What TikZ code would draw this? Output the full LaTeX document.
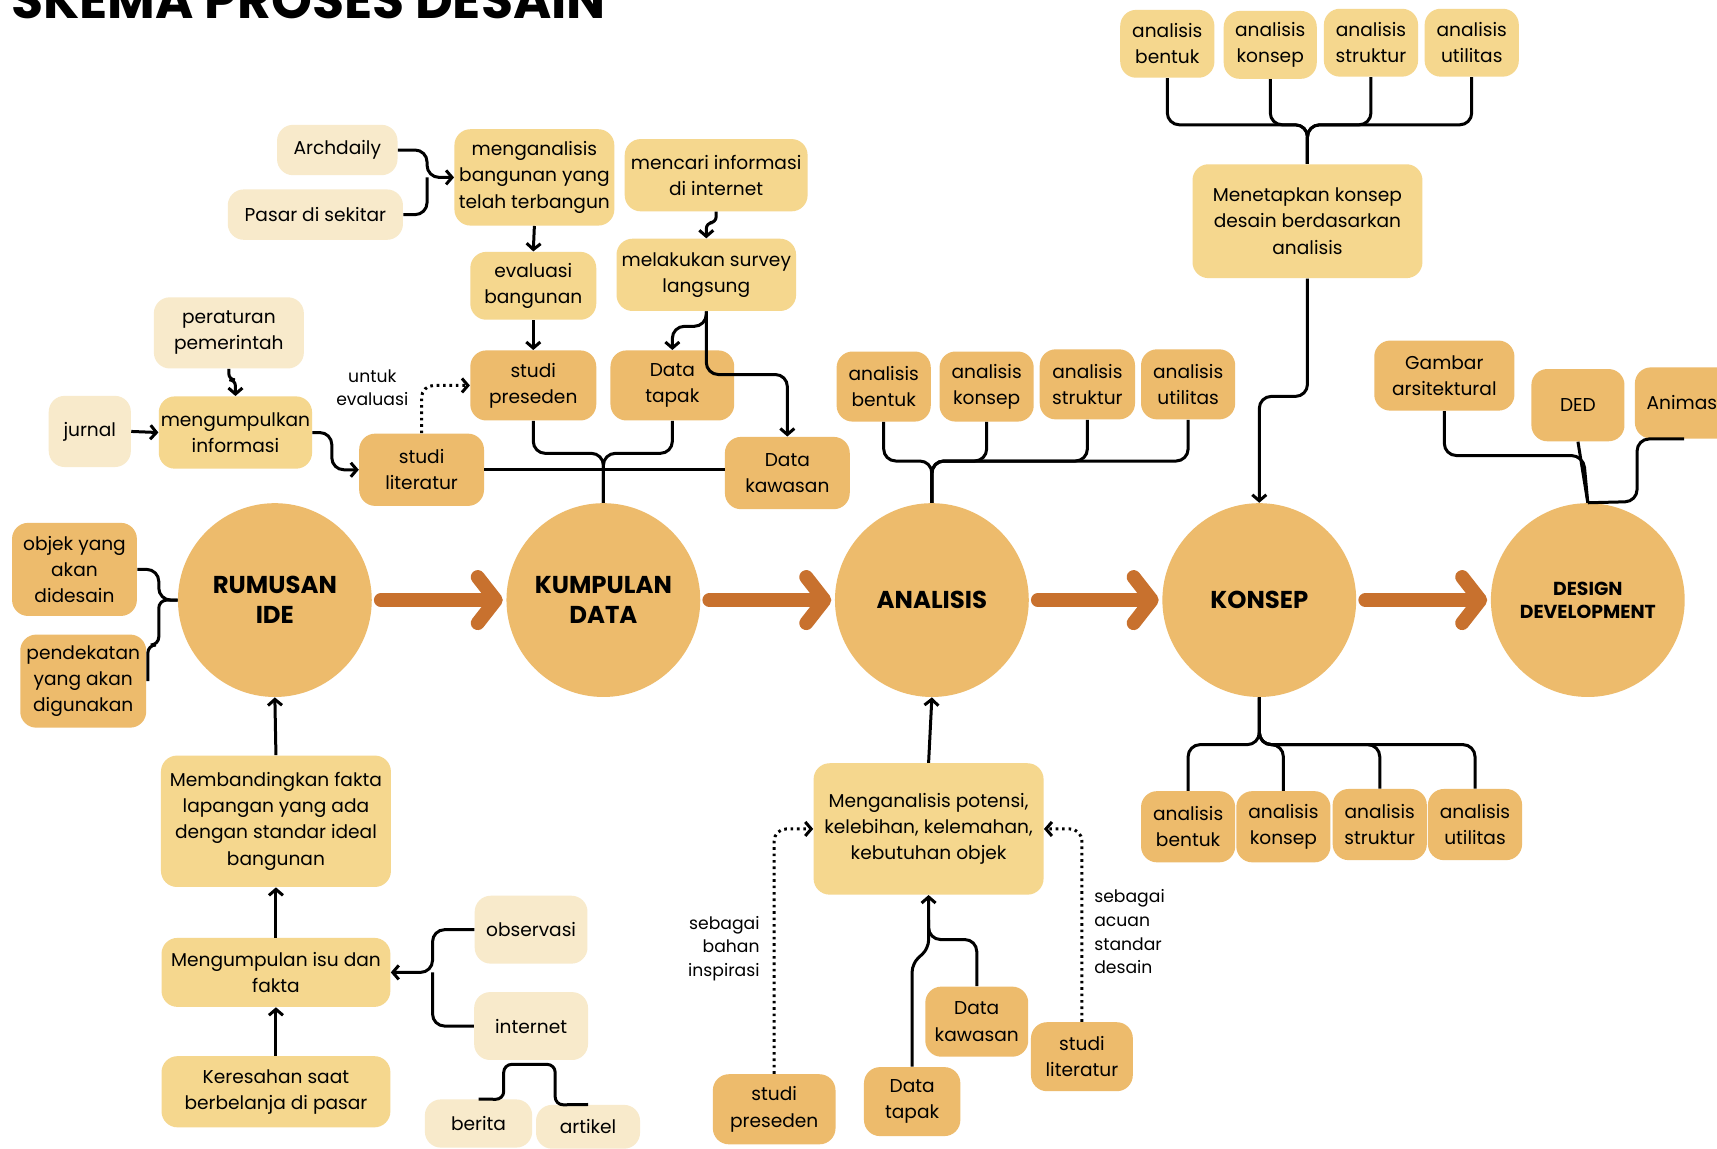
\documentclass[tikz,border=0pt]{standalone}
\usepackage{fontspec}
\setmainfont{Poppins}
\usetikzlibrary{arrows.meta}

\newlength\upx
\setlength\upx{0.5475pt}
\definecolor{cream}{HTML}{F8EACB}
\definecolor{sand}{HTML}{F5D78E}
\definecolor{ochre}{HTML}{EDBB6C}
\definecolor{rust}{HTML}{C8712E}

\tikzset{
  box/.style={rounded corners=8pt, align=center, inner sep=0pt, font=\fontsize{9.3}{13.1}\selectfont},
  palebox/.style={box, fill=cream},
  sandbox/.style={box, fill=sand},
  ochrebox/.style={box, fill=ochre},
  wh/.style 2 args={minimum width=#1\upx, minimum height=#2\upx},
  stage/.style={circle, fill=ochre, minimum size=177\upx, inner sep=0pt, align=center,
    font=\bfseries\fontsize{12.2}{14.8}\selectfont},
  link/.style={line width=1.5pt, rounded corners=6pt},
  arw/.style={link, -{Straight Barb[length=3pt,width=7pt]}},
  dotarw/.style={arw, dash pattern=on 1.3pt off 1.9pt},
  bigarw/.style={rust, line width=7pt, line cap=round, shorten <=8\upx, shorten >=3\upx,
    -{Straight Barb[length=9pt,width=23pt,round]}},
  note/.style={inner sep=0pt, font=\fontsize{8.6}{11.8}\selectfont},
}

\begin{document}
\begin{tikzpicture}[x=\upx, y=-\upx]
\useasboundingbox (0,0) rectangle (1568,1049);
\fill[white] (0,0) rectangle (1568,1049);

\node[anchor=base west, inner sep=0pt, font=\bfseries\fontsize{26}{26}\selectfont] (title) at (10,17) {SKEMA PROSES DESAIN};

% tahapan utama
\node[stage] (ide) at (251,548) {RUMUSAN\\IDE};
\node[stage] (data) at (551,548) {KUMPULAN\\DATA};
\node[stage] (anls) at (851,548) {ANALISIS};
\node[stage] (kons) at (1150,548) {KONSEP};
\node[stage, font=\bfseries\fontsize{9.4}{11.5}\selectfont] (dd) at (1450,548) {DESIGN\\DEVELOPMENT};
\draw[bigarw] (ide) -- (data);
\draw[bigarw] (data) -- (anls);
\draw[bigarw] (anls) -- (kons);
\draw[bigarw] (kons) -- (dd);

% rumusan ide
\node[ochrebox, wh={114}{85}] (objek) at (68,520) {objek yang\\akan\\didesain};
\node[ochrebox, wh={115}{85}] (pdkt) at (76,622) {pendekatan\\yang akan\\digunakan};
\draw[link] (objek.east) -| (145,548) -- (ide.west);
\draw[link, rounded corners=4pt] (ide.west) -- (145,548) |- (135,589) -- (135,622);
\node[sandbox, wh={210}{120}] (banding) at (252,750) {Membandingkan fakta\\lapangan yang ada\\dengan standar ideal\\bangunan};
\node[sandbox, wh={209}{63}] (isu) at (252,888) {Mengumpulan isu dan\\fakta};
\node[sandbox, wh={209}{65}] (resah) at (252,997) {Keresahan saat\\berbelanja di pasar};
\node[palebox, wh={103}{62}] (obs) at (485,849) {observasi};
\node[palebox, wh={104}{62}] (inet) at (485,937) {internet};
\node[palebox, wh={98}{44}] (berita) at (437,1026) {berita};
\node[palebox, wh={95}{40}] (artikel) at (537,1029) {artikel};
\draw[arw] (resah.north) -- (isu.south);
\draw[arw] (isu.north) -- (banding.south);
\draw[arw] (banding.north) -- (ide.south);
\draw[arw] (obs.west) -| (395,888) -- (isu.east);
\draw[link] (inet.west) -| (395,888);
\draw[link, rounded corners=4pt] (berita.north) -- (460,1004) -- (460,972) -- (507,972) -- (507,1009) -- (artikel.north);

% kumpulan data
\node[palebox, wh={110}{46}] (arch) at (308,137) {Archdaily};
\node[palebox, wh={160}{46}] (pasar) at (288,196) {Pasar di sekitar};
\node[sandbox, wh={146}{88}] (mgbang) at (488,162) {menganalisis\\bangunan yang\\telah terbangun};
\node[sandbox, wh={167}{66}] (mcari) at (654,160) {mencari informasi\\di internet};
\node[sandbox, wh={115}{62}] (evbang) at (487,261) {evaluasi\\bangunan};
\node[sandbox, wh={164}{66}] (survey) at (645,251) {melakukan survey\\langsung};
\node[ochrebox, wh={115}{64}] (prsd) at (487,352) {studi\\preseden};
\node[ochrebox, wh={113}{64}] (tpk) at (614,352) {Data\\tapak};
\node[ochrebox, wh={114}{66}] (kws) at (719,432) {Data\\kawasan};
\node[palebox, wh={137}{65}] (atur) at (209,304) {peraturan\\pemerintah};
\node[palebox, wh={75}{65}] (jurnal) at (82,394) {jurnal};
\node[sandbox, wh={140}{66}] (kumpinf) at (215,395) {mengumpulkan\\informasi};
\node[ochrebox, wh={114}{66}] (lit) at (385,429) {studi\\literatur};
\node[note, align=center] (untuk) at (340,354) {untuk\\evaluasi};
\draw[arw] (arch.east) -| (390,162) -- (mgbang.west);
\draw[link] (pasar.east) -| (390,162);
\draw[arw] (mgbang.south) -- (evbang.north);
\draw[arw] (evbang.south) -- (prsd.north);
\draw[arw, rounded corners=3pt] (mcari.south) -- ++(0,10) -| (survey.north);
\draw[arw] (survey.south) -- (645,298) -| (tpk.north);
\draw[arw] (survey.south) -- (645,342) -| (kws.north);
\draw[link] (prsd.south) |- (551,414) -- (data.north);
\draw[link] (tpk.south) |- (551,414) -- (data.north);
\draw[link] (lit.east) -- (lit.east -| kws.west);
\draw[arw] (jurnal.east) -- (kumpinf.west);
\draw[arw, rounded corners=3pt] (atur.south) -- ++(0,10) -| (kumpinf.north);
\draw[arw] (kumpinf.east) -| (303,429) -- (lit.west);
\draw[dotarw] (lit.north) |- (prsd.west);

% analisis
\node[ochrebox, wh={86}{64}] (ab1) at (807,353) {analisis\\bentuk};
\node[ochrebox, wh={86}{64}] (ak1) at (901,353) {analisis\\konsep};
\node[ochrebox, wh={87}{64}] (as1) at (993,351) {analisis\\struktur};
\node[ochrebox, wh={86}{64}] (au1) at (1085,351) {analisis\\utilitas};
\foreach \b in {ab1,ak1,as1,au1}
  \draw[link] (\b.south) |- (851,421) -- (anls.north);
\node[sandbox, wh={210}{120}] (pot) at (848,757) {Menganalisis potensi,\\kelebihan, kelemahan,\\kebutuhan objek};
\node[ochrebox, wh={112}{64}] (prsd2) at (707,1013) {studi\\preseden};
\node[ochrebox, wh={88}{63}] (tpk2) at (833,1006) {Data\\tapak};
\node[ochrebox, wh={94}{64}] (kws2) at (892,933) {Data\\kawasan};
\node[ochrebox, wh={93}{63}] (lit2) at (988,965) {studi\\literatur};
\draw[arw] (pot.north) -- (anls.south);
\draw[arw, rounded corners=4pt] (tpk2.north) -- (833,880) -- (848,866) -- (pot.south);
\draw[link] (kws2.north) |- (848,858) -- (848,840);
\draw[dotarw] (prsd2.north) |- (pot.west);
\draw[dotarw] (lit2.north) |- (pot.east);
\node[note, anchor=east, align=right] (inspir) at (694,866) {sebagai\\bahan\\inspirasi};
\node[note, anchor=west, align=left] (acuan) at (999,851) {sebagai\\acuan\\standar\\desain};

% konsep
\node[sandbox, wh={86}{62}] (ab2) at (1066,40) {analisis\\bentuk};
\node[sandbox, wh={85}{62}] (ak2) at (1160,41) {analisis\\konsep};
\node[sandbox, wh={86}{62}] (as2) at (1252,39) {analisis\\struktur};
\node[sandbox, wh={86}{62}] (au2) at (1344,39) {analisis\\utilitas};
\node[sandbox, wh={210}{104}] (tetap) at (1194,202) {Menetapkan konsep\\desain berdasarkan\\analisis};
\foreach \b in {ab2,ak2,as2,au2}
  \draw[link] (\b.south) |- (1194,114) -- (tetap.north);
\draw[arw] (tetap.south) -- (1194,362) -- (1150,362) -- (kons.north);
\node[ochrebox, wh={86}{65}] (ab3) at (1085,755) {analisis\\bentuk};
\node[ochrebox, wh={86}{65}] (ak3) at (1172,755) {analisis\\konsep};
\node[ochrebox, wh={86}{65}] (as3) at (1260,753) {analisis\\struktur};
\node[ochrebox, wh={86}{65}] (au3) at (1347,753) {analisis\\utilitas};
\foreach \b in {ab3,ak3,as3,au3}
  \draw[link] (kons.south) -- (1150,680) -| (\b.north);

% design development
\node[ochrebox, wh={128}{64}] (gam) at (1319,343) {Gambar\\arsitektural};
\node[ochrebox, wh={85}{66}] (ded) at (1441,370) {DED};
\node[ochrebox, wh={90}{65}] (anim) at (1538,368) {Animasi};
\draw[link] (gam.south) |- (1446,416) -- (dd.north);
\draw[link] (ded.south) -- (dd.north);
\draw[link] (anim.south) -| (1495,458) -- (dd.north);
\end{tikzpicture}
\end{document}
